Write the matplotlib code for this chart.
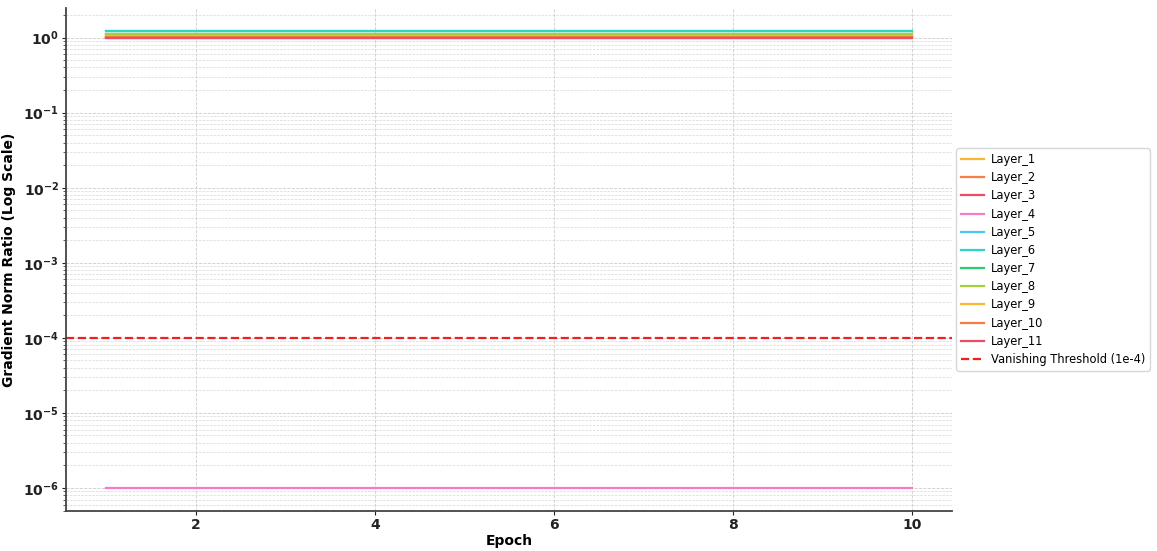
import numpy as np
import matplotlib
matplotlib.use("Agg")
from matplotlib import pyplot as plt
from matplotlib.ticker import NullFormatter

# epochs and per-layer gradient norm ratios (flat over training)
epochs = [1, 2, 3, 4, 5, 6, 7, 8, 9, 10]
layer_names = ["Layer_1", "Layer_2", "Layer_3", "Layer_4", "Layer_5", "Layer_6",
               "Layer_7", "Layer_8", "Layer_9", "Layer_10", "Layer_11"]
layer_levels = [1.06, 1.02, 1.0, 1e-6, 1.22, 1.22, 1.1, 1.1, 1.06, 1.02, 1.0]
threshold = 1e-4
y_ticks = [1e-6, 1e-5, 1e-4, 1e-3, 1e-2, 1e-1, 1e0]

colors = ["#fbb731", "#f47f45", "#ea4d68", "#f77ac8", "#4fc3f1",
          "#2fd3c8", "#2ecc71", "#a4d13a", "#fbb731", "#f47f45", "#ea4d68"]

fig, ax = plt.subplots(figsize=(11.57, 5.51), dpi=100)
fig.subplots_adjust(left=0.057, right=0.823, top=0.985, bottom=0.073)

for name, level, c in zip(layer_names, layer_levels, colors):
    ax.plot(epochs, [level] * len(epochs), color=c, lw=1.6, label=name)

ax.axhline(threshold, color="#f02020", ls="--", lw=1.6, label="Vanishing Threshold (1e-4)")

ax.set_yscale("log")
ax.set_yticks(y_ticks)
ax.yaxis.set_minor_formatter(NullFormatter())
ax.set_xticks([2, 4, 6, 8, 10])
ax.grid(True, which="major", ls="--", lw=0.6, color="#cccccc")
ax.grid(True, which="minor", axis="y", ls="--", lw=0.5, color="#d8d8d8")

for s in ["top", "right"]:
    ax.spines[s].set_visible(False)
for s in ["left", "bottom"]:
    ax.spines[s].set_color("#444444")
    ax.spines[s].set_linewidth(1.3)

ax.tick_params(axis="both", which="major", labelsize=10, colors="#222222", length=3, pad=2)
ax.tick_params(axis="y", which="minor", length=2, colors="#444444")
for lbl in ax.get_xticklabels() + ax.get_yticklabels():
    lbl.set_fontweight("bold")

ax.set_xlabel("Epoch", fontsize=10, fontweight="bold", labelpad=2)
ax.set_ylabel("Gradient Norm Ratio (Log Scale)", fontsize=10, fontweight="bold", labelpad=5)

ax.legend(loc="center left", bbox_to_anchor=(0.998, 0.5), fontsize=8.3,
          frameon=True, handlelength=2.0, handletextpad=0.6, labelspacing=0.45)

fig.savefig("out.png", dpi=100)
